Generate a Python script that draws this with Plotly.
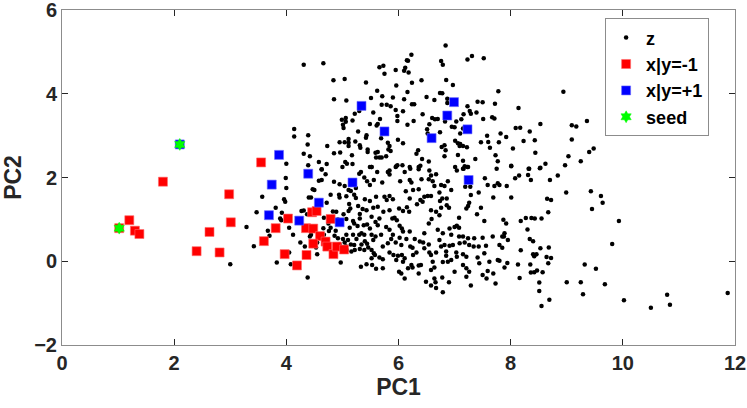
import plotly.graph_objects as go

# PC scores
z_pc1 = [
    4.31, 4.66, 5.66, 5.73, 6.15, 5.95, 6.10, 6.18, 5.75, 4.84, 5.04, 5.42, 5.96, 5.62, 6.16, 4.85, 5.07, 5.51, 5.71, 5.90,
    6.10, 5.70, 5.79, 5.86, 5.95, 6.08, 5.98, 5.22, 5.30, 5.55, 4.99, 5.06, 5.06, 5.01, 5.02, 5.18, 5.67, 5.63, 5.61, 5.49,
    5.98, 6.16, 4.14, 4.14, 4.39, 5.28, 5.43, 5.42, 5.69, 4.73, 4.38, 4.95, 5.04, 5.11, 5.11, 5.23, 5.31, 5.11, 5.32, 5.45,
    5.45, 5.81, 5.84, 5.82, 5.86, 6.08, 5.99, 4.31, 4.42, 4.85, 4.96, 5.17, 5.59, 5.63, 5.60, 5.66, 5.70, 5.78, 4.00, 4.39,
    4.58, 4.72, 5.08, 5.05, 5.18, 5.00, 5.49, 5.52, 5.95, 5.98, 4.63,
    6.84, 6.23, 6.17, 6.12, 6.76, 6.79, 7.23, 7.31, 7.52, 6.41, 6.24, 6.85, 6.97, 6.50, 6.64, 6.74, 6.78, 7.78, 8.94, 6.24,
    6.28, 6.87, 6.87, 7.23, 7.41, 7.50, 7.72, 7.27, 7.29, 7.39, 7.16, 7.12, 7.03, 8.14, 6.43, 6.60, 6.65, 6.70, 6.27, 6.55,
    6.51, 6.52, 6.83, 6.95, 7.00, 7.51, 7.67, 7.71, 7.15, 7.10, 6.74, 8.09, 8.17, 8.53, 8.34, 7.82, 7.92, 7.58, 7.60, 7.47,
    7.79, 7.63, 7.01, 7.06, 7.10, 7.09, 7.15, 7.22, 6.82, 6.77, 6.84, 6.35, 6.32, 8.23, 8.43, 8.04, 8.44, 7.37, 7.06, 7.15,
    6.82, 6.42, 6.54, 7.73, 7.77, 9.03, 6.20, 6.36, 6.39, 6.07, 7.01, 7.18, 7.23, 7.16, 7.75, 8.01, 8.33, 8.53, 8.62, 8.97,
    9.09, 9.17, 9.36, 9.09, 9.40, 9.48, 9.25,
    3.99, 4.00, 3.57, 3.96, 3.98, 3.81, 3.47, 3.92, 3.89, 3.91, 3.29, 4.05, 4.12, 3.67, 3.70, 3.42, 4.25, 4.33, 4.05, 3.83,
    4.08, 4.38, 3.00, 4.63, 4.70, 4.63, 4.58, 4.85, 4.47, 4.50, 5.04, 4.95, 5.11, 5.15, 5.24, 5.33, 5.30, 5.39, 5.44, 4.79,
    4.94, 4.95, 5.07, 5.21, 5.24, 5.40, 4.40, 4.44, 4.72, 5.12, 5.14, 5.11, 4.89, 4.83, 5.28, 5.36, 5.43, 5.31, 4.27, 4.31,
    4.37, 4.67, 4.92, 5.07, 5.02, 5.31, 4.75, 4.66, 4.79, 4.76, 4.88, 4.86, 5.19, 5.21, 5.27, 5.38, 5.44, 5.13, 5.34, 5.39,
    5.19, 5.30, 5.07, 5.01, 5.10, 5.25, 5.15, 5.21, 5.34, 5.40, 5.44, 5.31, 5.39, 5.46, 5.08, 5.06, 5.04, 4.92, 4.95, 5.16,
    5.22, 4.55, 4.53, 4.55, 4.85, 4.97, 5.33, 5.43, 4.42, 4.67, 4.44,
    5.52, 5.62, 5.81, 5.84, 5.96, 6.11, 6.21, 6.36, 6.55, 6.58, 6.67, 6.54, 6.61, 6.88, 7.04, 7.15, 7.24, 7.54, 7.59, 7.71,
    7.77, 5.56, 5.71, 5.84, 6.03, 6.20, 6.23, 6.41, 6.76, 6.82, 6.94, 7.19, 7.28, 6.64, 5.49, 6.13, 6.26, 6.36, 5.60, 5.75,
    5.84, 5.90, 5.79, 6.46, 6.52, 6.58, 6.73, 6.78, 6.74, 6.86, 7.29, 7.43, 7.69, 6.20, 6.39, 6.33, 6.43, 5.49, 5.55, 5.63,
    5.73, 5.84, 5.52, 6.01, 6.08, 6.19, 6.15, 6.58, 6.67, 6.73, 6.76, 6.86, 6.90, 7.21, 7.24, 7.26, 7.47, 7.40, 7.53, 5.89,
    5.93, 5.97, 5.66, 5.59, 7.08, 5.49, 5.63, 5.78, 5.84, 5.90, 6.02, 6.06, 6.08, 6.20, 6.29, 6.46, 6.54, 6.59, 6.70, 6.79,
    6.91, 7.00, 7.04, 7.08, 6.94, 7.08, 7.15, 7.24, 7.35, 7.50, 7.68, 7.80, 5.52, 5.59, 5.69, 5.55, 5.72, 5.81, 5.87, 5.95,
    6.02, 6.05, 6.14, 6.21, 6.25, 6.38, 6.44, 6.54, 6.46, 6.55, 6.73, 6.76, 6.82, 6.91, 6.97, 7.09, 7.18, 7.26, 7.34, 7.43,
    7.56, 6.85, 7.03, 5.52, 5.58, 5.66, 5.56, 5.84, 5.91, 5.99, 6.06, 6.11, 5.96, 6.26, 6.32, 6.58, 6.67, 6.85, 6.94, 7.04,
    7.15, 7.21, 7.41, 7.44, 7.53, 7.62, 7.77, 5.52, 5.53, 5.72, 6.08, 6.23, 6.36, 6.40, 6.61, 6.79, 6.88, 7.15, 7.21, 7.26,
    7.00, 6.64, 6.58, 6.01, 6.05, 6.11, 6.17, 6.25, 6.36, 6.49, 6.64, 6.66, 6.58, 6.67, 6.78, 6.79, 6.90, 7.21, 7.29, 7.59,
    7.57, 7.69, 7.73, 7.50, 5.72, 5.60,
    8.01, 8.32, 8.52, 8.08, 8.15, 8.31, 8.36, 8.70, 8.84, 7.80, 7.93, 8.01, 8.65, 8.72, 8.99, 9.43, 9.61, 9.64, 9.45, 7.87,
    7.92, 8.18, 8.27, 8.37, 8.43, 8.55, 8.67, 9.93, 8.30, 7.89, 7.85, 7.88, 7.95, 8.34, 8.40, 7.85, 8.18, 8.53, 8.68, 9.81,
    8.40, 8.46, 8.42, 8.64, 8.72, 8.67, 7.80, 7.94, 7.89, 8.13, 8.35, 9.32, 9.52, 8.36, 8.42, 8.47, 8.57, 8.16, 8.51, 9.00,
    9.25, 9.68, 8.51, 9.29, 8.69, 8.55, 10.02, 10.50, 10.79, 10.84, 11.87,
]
z_pc2 = [
    4.69, 4.73, 4.63, 4.67, 4.80, 4.57, 4.55, 4.51, 4.48, 4.32, 4.35, 4.27, 4.20, 4.07, 4.04, 3.87, 3.84, 3.90, 3.94, 3.91,
    3.87, 3.74, 3.74, 3.70, 3.61, 3.58, 3.47, 3.52, 3.59, 3.55, 3.38, 3.42, 3.33, 3.26, 3.18, 3.36, 3.40, 3.28, 3.24, 3.28,
    3.35, 3.26, 3.16, 2.98, 3.01, 3.10, 3.01, 2.95, 2.94, 2.75, 2.79, 2.84, 2.84, 2.92, 2.83, 2.86, 2.77, 2.75, 2.71, 2.67,
    2.61, 2.83, 2.75, 2.67, 2.63, 2.82, 2.90, 2.57, 2.51, 2.58, 2.60, 2.53, 2.59, 2.61, 2.48, 2.48, 2.48, 2.51, 2.33, 2.29,
    2.37, 2.32, 2.33, 2.37, 2.32, 2.25, 2.25, 2.25, 2.25, 2.29, 2.20,
    5.15, 4.93, 4.79, 4.62, 4.78, 4.69, 4.82, 4.90, 4.85, 4.32, 4.26, 4.33, 4.21, 3.92, 3.85, 4.02, 4.01, 4.06, 4.05, 3.75,
    3.75, 3.88, 3.78, 3.70, 3.81, 3.80, 3.76, 3.59, 3.52, 3.55, 3.51, 3.39, 3.34, 3.66, 3.51, 3.42, 3.39, 3.40, 3.35, 3.27,
    3.15, 3.05, 3.34, 3.21, 3.20, 3.40, 3.44, 3.41, 3.17, 3.05, 3.08, 3.18, 3.19, 3.28, 3.10, 3.05, 2.97, 3.00, 2.85, 2.84,
    2.84, 2.71, 2.88, 2.82, 2.80, 2.75, 2.75, 2.72, 2.77, 2.73, 2.65, 2.65, 2.57, 2.87, 2.89, 2.69, 2.59, 2.44, 2.54, 2.40,
    2.51, 2.44, 2.38, 2.53, 2.39, 2.51, 2.25, 2.25, 2.28, 2.29, 2.25, 2.27, 2.25, 2.21, 2.21, 2.28, 2.21, 2.23, 2.33, 2.29,
    3.25, 3.22, 3.35, 2.91, 2.61, 2.69, 2.39,
    1.99, 1.75, 1.54, 1.48, 1.42, 1.28, 1.17, 1.16, 1.02, 0.98, 0.82, 0.80, 0.63, 0.73, 0.61, 0.36, 0.45, 0.35, 0.21, -0.03,
    -0.07, -0.39, -0.07, 2.19, 2.08, 1.94, 1.92, 1.90, 1.72, 1.70, 1.80, 1.84, 1.70, 1.68, 1.75, 2.13, 2.09, 2.00, 1.91, 1.59,
    1.59, 1.52, 1.55, 1.59, 1.51, 1.48, 1.52, 1.52, 1.40, 1.37, 1.26, 1.20, 1.18, 1.19, 1.32, 1.25, 1.22, 1.13, 1.20, 1.21,
    1.12, 1.04, 1.00, 1.01, 1.12, 1.02, 0.90, 0.79, 0.80, 0.72, 0.73, 0.61, 0.96, 0.90, 0.84, 0.86, 0.88, 0.80, 0.67, 0.63,
    0.63, 0.63, 0.63, 0.53, 0.51, 0.53, 0.40, 0.39, 0.40, 0.48, 0.42, 0.29, 0.27, 0.33, 0.27, 0.36, 0.45, 0.55, 0.40, 0.23,
    0.27, 0.45, 0.33, 0.17, 0.21, -0.03, -0.13, -0.07, 0.59, 0.63, 0.63,
    2.25, 2.13, 2.13, 2.17, 2.27, 2.13, 2.21, 2.20, 2.17, 2.05, 2.08, 1.96, 1.91, 1.91, 2.17, 2.21, 2.25, 1.98, 1.82, 1.80,
    1.86, 1.94, 1.88, 2.07, 1.91, 1.94, 1.88, 1.96, 1.82, 1.80, 1.70, 1.78, 1.78, 1.80, 1.82, 1.67, 1.70, 1.72, 1.54, 1.54,
    1.56, 1.48, 1.46, 1.54, 1.56, 1.56, 1.64, 1.50, 1.44, 1.50, 1.58, 1.64, 1.52, 1.50, 1.46, 1.36, 1.42, 1.44, 1.28, 1.30,
    1.18, 1.22, 1.06, 1.26, 1.20, 1.18, 1.29, 1.22, 1.18, 1.10, 1.28, 1.34, 1.28, 1.26, 1.32, 1.40, 1.28, 1.12, 0.96, 1.02,
    1.04, 0.98, 1.02, 0.94, 1.04, 0.78, 0.86, 0.82, 0.75, 0.63, 0.85, 0.78, 0.71, 0.71, 0.53, 0.67, 0.90, 1.01, 0.75, 0.67,
    0.78, 0.82, 0.85, 0.80, 0.63, 0.59, 0.59, 0.55, 0.55, 0.56, 0.59, 0.39, 0.63, 0.59, 0.63, 0.51, 0.35, 0.43, 0.53, 0.45,
    0.56, 0.39, 0.53, 0.35, 0.32, 0.47, 0.45, 0.40, 0.31, 0.21, 0.51, 0.35, 0.39, 0.37, 0.39, 0.43, 0.45, 0.39, 0.35, 0.35,
    0.37, 0.23, 0.21, 0.27, 0.15, 0.09, 0.19, 0.21, 0.15, 0.13, 0.15, 0.07, 0.03, 0.15, 0.21, 0.15, 0.21, 0.13, 0.03, 0.11,
    0.17, 0.11, 0.09, -0.05, 0.19, -0.01, 0.03, 0.07, -0.09, 0.05, -0.01, -0.09, -0.10, -0.09, -0.01, -0.02, -0.01, -0.09, -0.17, -0.25,
    -0.25, -0.15, -0.21, -0.25, -0.29, -0.41, -0.17, -0.15, -0.29, -0.49, -0.41, -0.50, -0.58, -0.64, -0.39, -0.74, -0.50, -0.37, -0.58, -0.23,
    -0.41, -0.29, -0.53, -0.33, -0.17, -0.18,
    2.27, 2.21, 2.22, 1.98, 2.05, 2.06, 1.94, 1.94, 2.05, 1.82, 1.80, 1.52, 1.49, 1.46, 1.64, 1.67, 1.56, 1.40, 1.25, 0.99,
    0.90, 0.96, 1.03, 1.03, 1.02, 1.02, 1.17, 0.96, 0.76, 0.67, 0.59, 0.59, 0.51, 0.53, 0.48, 0.32, 0.26, 0.31, 0.33, 0.41,
    0.17, 0.17, 0.12, 0.10, 0.08, -0.05, 0.01, -0.04, -0.15, -0.08, -0.08, -0.08, -0.18, -0.27, -0.26, -0.22, -0.26, -0.40, -0.51, -0.50,
    -0.50, -0.55, -0.71, -0.79, -0.92, -1.07, -0.93, -1.11, -0.80, -1.04, -0.76,
]

neg_pc1 = [1.02, 1.20, 1.30, 1.38, 1.80, 2.40, 2.63, 2.81, 2.98, 3.01, 3.55, 3.60, 3.81, 4.03, 3.97,
           4.19, 4.36, 4.35, 4.48, 4.46, 4.54, 4.60, 4.70, 4.48, 4.73, 4.79, 4.84, 4.90, 5.03]
neg_pc2 = [0.79, 0.98, 0.73, 0.65, 1.90, 0.24, 0.70, 0.21, 1.60, 0.93, 2.36, 0.48, 0.79, 1.02, 0.17,
           -0.10, 0.15, 0.79, 0.78, 1.17, 1.20, 0.60, 0.47, 0.42, 0.35, 1.01, 0.17, 0.35, 0.28]

pos_pc1 = [2.10, 3.87, 3.74, 4.39, 3.69, 4.58, 4.23, 4.95, 5.18, 5.34, 5.75, 6.59, 6.87, 6.99, 7.23, 7.25]
pos_pc2 = [2.79, 2.54, 1.83, 2.09, 1.10, 1.40, 0.97, 0.93, 1.88, 3.71, 3.10, 2.94, 3.48, 3.80, 3.15, 1.94]

seed_pc1 = [1.02, 2.10]
seed_pc2 = [0.79, 2.79]

FONT = "Liberation Sans"
TEXT = "#262626"
BOX = "#8c8c8c"

fig = go.Figure()
fig.add_trace(go.Scatter(x=z_pc1, y=z_pc2, mode="markers", name="z", legendgroup="z",
                         marker=dict(color="black", size=4.5)))
fig.add_trace(go.Scatter(x=neg_pc1, y=neg_pc2, mode="markers", name="x|y=-1", legendgroup="neg",
                         marker=dict(color="#ff0000", symbol="square", size=9,
                                     line=dict(color="#ff6a6a", width=0.6))))
fig.add_trace(go.Scatter(x=pos_pc1, y=pos_pc2, mode="markers", name="x|y=+1", legendgroup="pos",
                         marker=dict(color="#0000ff", symbol="square", size=9,
                                     line=dict(color="#6a6aff", width=0.6))))
fig.add_trace(go.Scatter(x=seed_pc1, y=seed_pc2, mode="markers", name="seed", legendgroup="seed",
                         marker=dict(color="#00ff00", symbol="hexagram", size=9,
                                     line=dict(color="#00ff00", width=0.5))))

axis_style = dict(
    showline=True, linecolor=BOX, linewidth=1, mirror="ticks",
    ticks="inside", ticklen=6, tickcolor=TEXT, showgrid=False, zeroline=False,
    automargin=False, ticklabeloverflow="allow",
    tickfont=dict(family=FONT, size=20, color=TEXT, weight="bold"),
)
fig.update_xaxes(range=[0, 12], dtick=2, **axis_style,
                 title=dict(text="PC1", font=dict(family=FONT, size=23, color=TEXT, weight="bold"), standoff=5))
fig.update_yaxes(range=[-2, 6], dtick=2, **axis_style,
                 title=dict(text="PC2", font=dict(family=FONT, size=23, color=TEXT, weight="bold"), standoff=7))

fig.update_layout(
    width=747, height=408,
    margin=dict(l=62, r=12, t=10, b=63),
    plot_bgcolor="white", paper_bgcolor="white",
    legend=dict(x=0.807, y=0.975, xanchor="left", yanchor="top",
                bgcolor="white", bordercolor=BOX, borderwidth=1,
                font=dict(family=FONT, size=18, color="black", weight="bold"),
                tracegroupgap=0, itemwidth=30),
)

# the page body keeps its default 8px margin otherwise
fig.write_html("out.html", config={"displayModeBar": False},
               post_script="document.body.style.margin='0px';")
